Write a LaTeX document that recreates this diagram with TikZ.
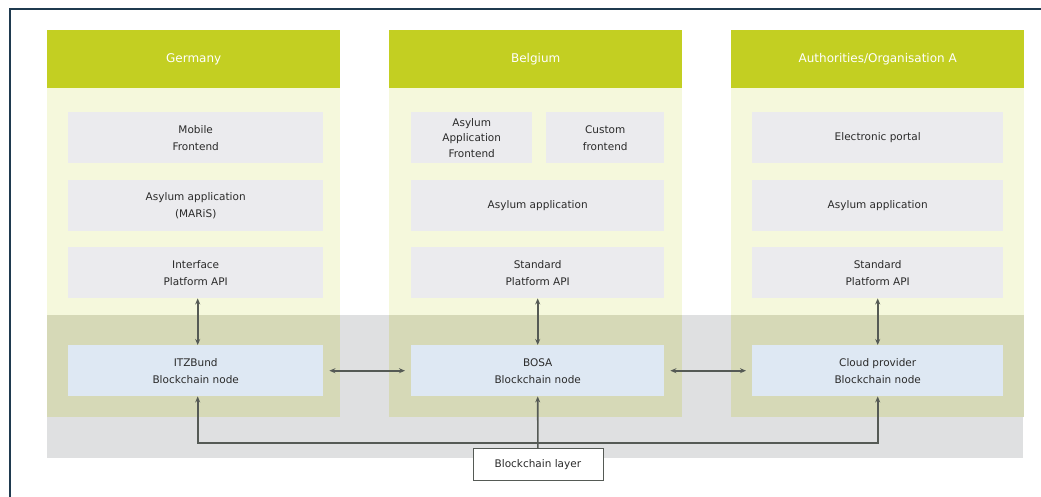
\documentclass[tikz,border=0pt]{standalone}
\usepackage{fontspec}
\setmainfont{DejaVu Sans}
\usetikzlibrary{arrows.meta}
\definecolor{hdr}{HTML}{C3CF22}
\definecolor{colbody}{HTML}{F5F8DC}
\definecolor{olive}{HTML}{D6D9B7}
\definecolor{band}{HTML}{DFE0E1}
\definecolor{inner}{HTML}{EBEBEE}
\definecolor{node}{HTML}{DEE8F3}
\definecolor{arr}{HTML}{555A55}
\definecolor{frame}{HTML}{1F3A4F}
\definecolor{txt}{HTML}{2A2A2A}
\tikzset{
  box/.style={anchor=north west, rectangle, inner sep=0pt, align=center, text=txt,
    font=\fontsize{10.5}{17}\selectfont},
  innerbox/.style={box, fill=inner},
  gwbox/.style={box, fill=node},
  header/.style={anchor=north west, rectangle, inner sep=0pt, fill=hdr, text=white,
    font=\fontsize{12}{14}\selectfont, minimum width=293pt, minimum height=58pt},
  link/.style={draw=arr, line width=1.6pt, {Stealth[length=6pt,width=5pt]}-{Stealth[length=6pt,width=5pt]}},
  up/.style={draw=arr, line width=1.6pt, -{Stealth[length=6pt,width=5pt]}},
  labelbox/.style={anchor=north west, rectangle, inner sep=0pt, fill=white, draw=arr,
    line width=0.8pt, text=txt, font=\fontsize{10.5}{12}\selectfont,
    minimum width=130pt, minimum height=32pt}
}
\begin{document}
\begin{tikzpicture}[x=1pt,y=-1pt]
\useasboundingbox (0,0) rectangle (1041,497);
\fill[white] (0,0) rectangle (1041,497);
% frame
\draw[frame, line width=1.5pt] (10,497) -- (10,9) -- (1041,9);
% gray band
\fill[band] (47,315) rectangle (1023,458);
% columns
\foreach \x in {47,389,731}{
  \fill[colbody] (\x,88) rectangle ++(293,227);
  \fill[olive] (\x,315) rectangle ++(293,102);
}
% headers
\node[header] (h1) at (47,30) {Germany};
\node[header] (h2) at (389,30) {Belgium};
\node[header] (h3) at (731,30) {Authorities/Organisation A};
% left column
\node[innerbox, minimum width=255pt, minimum height=51pt] (l1) at (68,112) {Mobile\\Frontend};
\node[innerbox, minimum width=255pt, minimum height=51pt] (l2) at (68,180) {Asylum application\\(MARiS)};
\node[innerbox, minimum width=255pt, minimum height=51pt] (l3) at (68,247) {Interface\\Platform API};
% middle column
\node[innerbox, minimum width=121pt, minimum height=51pt] (m1a) at (411,112) {Asylum\\[-1.5pt]Application\\[-1.5pt]Frontend};
\node[innerbox, minimum width=118pt, minimum height=51pt] (m1b) at (546,112) {Custom\\frontend};
\node[innerbox, minimum width=253pt, minimum height=51pt] (m2) at (411,180) {Asylum application};
\node[innerbox, minimum width=253pt, minimum height=51pt] (m3) at (411,247) {Standard\\Platform API};
% right column
\node[innerbox, minimum width=251pt, minimum height=51pt] (r1) at (752,112) {Electronic portal};
\node[innerbox, minimum width=251pt, minimum height=51pt] (r2) at (752,180) {Asylum application};
\node[innerbox, minimum width=251pt, minimum height=51pt] (r3) at (752,247) {Standard\\Platform API};
% blockchain nodes
\node[gwbox, minimum width=255pt, minimum height=51pt] (g1) at (68,345) {ITZBund\\Blockchain node};
\node[gwbox, minimum width=253pt, minimum height=51pt] (g2) at (411,345) {BOSA\\Blockchain node};
\node[gwbox, minimum width=251pt, minimum height=51pt] (g3) at (752,345) {Cloud provider\\Blockchain node};
% label
\node[labelbox] (lay) at (472.5,448) {Blockchain layer};
% connectors
\draw[link] ([xshift=2pt]l3.south) -- ([xshift=2pt]g1.north);
\draw[link] (m3.south) -- (g2.north);
\draw[link] (r3.south) -- (g3.north);
\draw[link] ([xshift=6pt]g1.east) -- ([xshift=-6pt]g2.west);
\draw[link] ([xshift=6pt]g2.east) -- ([xshift=-6pt]g3.west);
\coordinate (bus) at (lay.north |- 0,443);
\draw[up] (lay.north) -- (g2.south);
\draw[up] (bus) -| ([xshift=2pt]g1.south);
\draw[up] (bus) -| (g3.south);
\end{tikzpicture}
\end{document}
